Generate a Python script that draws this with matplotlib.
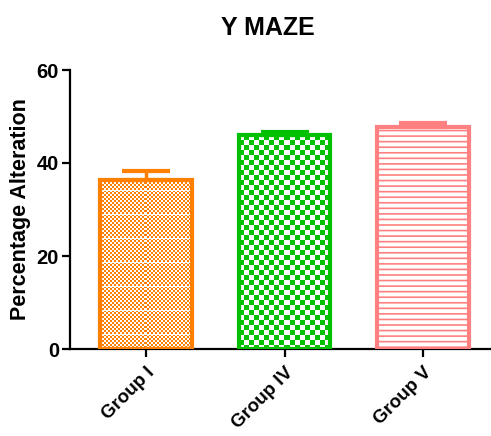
import numpy as np
import matplotlib
matplotlib.use("Agg")
import matplotlib.pyplot as plt

plt.rcParams['font.family'] = ['Liberation Sans', 'DejaVu Sans']
plt.rcParams['hatch.linewidth'] = 1.2

groups = ['Group I', 'Group IV', 'Group V']
means = [36.3, 46.0, 47.7]
errs = [1.9, 0.7, 1.0]
colors = ['#FF8000', '#00C000', '#FF8080']

fig = plt.figure(figsize=(4.91, 4.36), dpi=100)
ax = fig.add_axes([70 / 491, 87 / 436, 421 / 491, 279 / 436])
ax.set_xlim(-0.55, 2.49)
ax.set_ylim(0, 60)

x = np.arange(len(groups))
bars = ax.bar(x, means, width=0.66, facecolor='none', edgecolor=colors, linewidth=3, zorder=3)


def checker(color, cell, lines=None, h=300, w=120):
    rgb = np.array(matplotlib.colors.to_rgb(color))
    yy, xx = np.mgrid[0:h, 0:w]
    mask = ((yy // cell) + (xx // cell)) % 2 == 0
    img = np.ones((h, w, 3))
    img[mask] = rgb
    if lines:
        img[(yy % lines) == 0] = 1.0
    return img


# fill patterns, clipped to each bar
bar_px = ax.transData.transform([(0, 0), (0.66, 60)])
wpx = int(bar_px[1, 0] - bar_px[0, 0])
hpx = int(bar_px[1, 1] - bar_px[0, 1])
patterns = [checker(colors[0], 2, lines=24, h=hpx, w=wpx), checker(colors[1], 5, h=hpx, w=wpx)]
for b, pat in zip(bars, patterns):
    im = ax.imshow(pat, extent=[b.get_x(), b.get_x() + b.get_width(), 0, 60],
                   origin='upper', interpolation='nearest', aspect='auto', zorder=2)
    im.set_clip_path(b)
bars[2].set_hatch('---')

for xi, m, e, c in zip(x, means, errs, colors):
    ax.errorbar(xi, m, yerr=[[0], [e]], fmt='none', ecolor=c, elinewidth=2.5,
                capsize=17, capthick=3, zorder=4)

ax.set_xlim(-0.55, 2.49)
ax.set_ylim(0, 60)
ax.set_aspect('auto')
ax.set_yticks([0, 20, 40, 60])
ax.set_xticks(x)
ax.set_xticklabels(groups, rotation=45, ha='right', rotation_mode='anchor',
                   fontsize=13.5, fontweight='bold')
for lab in ax.get_yticklabels():
    lab.set_fontsize(14.5)
    lab.set_fontweight('bold')
ax.spines['top'].set_visible(False)
ax.spines['right'].set_visible(False)
ax.spines['left'].set_linewidth(1.6)
ax.spines['bottom'].set_linewidth(1.6)
ax.tick_params(axis='both', width=1.6, length=6, pad=2)
ax.tick_params(axis='x', pad=5)
ax.set_ylabel('Percentage Alteration', fontsize=15.5, fontweight='bold', labelpad=4)
fig.text(268 / 491, 1 - 28 / 436, 'Y MAZE', ha='center', va='center', fontsize=18, fontweight='bold')

fig.savefig('out.png', dpi=100)
